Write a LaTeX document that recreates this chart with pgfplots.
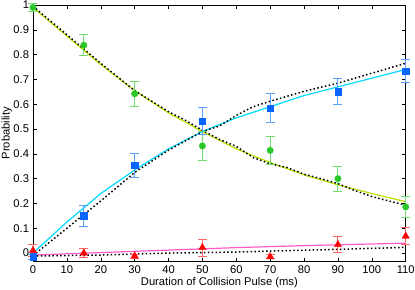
\documentclass[border=0pt]{standalone}
\usepackage{pgfplots}
\pgfplotsset{compat=1.18}
\usepackage{fontspec}
\setmainfont{Liberation Sans}
\definecolor{gmark}{RGB}{40,200,40}
\definecolor{gerr}{RGB}{110,220,110}
\definecolor{bmark}{RGB}{10,100,255}
\definecolor{berr}{RGB}{90,160,255}
\definecolor{rmark}{RGB}{255,0,0}
\definecolor{rerr}{RGB}{255,100,100}
\definecolor{gline}{RGB}{185,225,0}
\definecolor{cline}{RGB}{0,220,255}
\definecolor{pline}{RGB}{255,90,200}
\begin{document}
\fontsize{11.2bp}{13bp}\selectfont
\begin{tikzpicture}
\begin{axis}[
  scale only axis,
  width=372.7bp, height=256.5bp,
  xmin=0, xmax=110, ymin=-0.034, ymax=1,
  xtick={0,10,...,110},
  ytick={0,0.1,...,1.0},
  yticklabels={0,0.1,0.2,0.3,0.4,0.5,0.6,0.7,0.8,0.9,1},
  tick align=inside,
  major tick length=4bp,
  tick style={black, line width=0.5pt},
  axis line style={black, line width=0.6pt},
  every tick label/.append style={font=\fontsize{11.2bp}{13bp}\selectfont},
  /pgf/number format/assume math mode=true,
  xlabel={Duration of Collision Pulse (ms)},
  ylabel={Probability},
  label style={font=\fontsize{11.2bp}{13bp}\selectfont},
  xlabel style={yshift=4bp},
  ylabel style={at={(rel axis cs:-0.056,0.5)}, anchor=south, inner sep=0pt},
  clip=false,
]
\coordinate (ll) at (rel axis cs:0,0);
\coordinate (ur) at (rel axis cs:1,1);
% fitted lines
\addplot[gline, line width=1.2pt, mark=none] coordinates {
(0,0.99)(10,0.875)(20,0.76)(30,0.655)(40,0.565)(50,0.49)(60,0.42)(70,0.365)(80,0.315)(90,0.275)(100,0.24)(110,0.207)};
\addplot[cline, line width=1.2pt, mark=none] coordinates {
(0,0.0)(10,0.125)(20,0.24)(30,0.335)(40,0.42)(50,0.49)(60,0.545)(70,0.59)(80,0.635)(90,0.67)(100,0.705)(110,0.74)};
\addplot[pline, line width=1.2pt, mark=none] coordinates {
(0,-0.008)(20,0.002)(40,0.012)(60,0.022)(80,0.03)(110,0.04)};
% theory dotted
\addplot[black, line width=1.5pt, dash pattern=on 1.5pt off 2.4pt, mark=none] coordinates {
(0,0.995)(10,0.88)(20,0.765)(30,0.655)(40,0.57)(45,0.535)(50,0.495)(55,0.458)(60,0.43)(65,0.385)(70,0.36)(75,0.345)(80,0.318)(85,0.3)(90,0.28)(95,0.252)(100,0.228)(105,0.21)(110,0.193)};
\addplot[black, line width=1.5pt, dash pattern=on 1.5pt off 2.4pt, mark=none] coordinates {
(0,-0.01)(10,0.1)(20,0.21)(30,0.325)(40,0.415)(50,0.49)(55,0.512)(60,0.555)(65,0.59)(70,0.612)(80,0.652)(90,0.685)(100,0.725)(110,0.765)};
\addplot[black, line width=1.5pt, dash pattern=on 1.5pt off 2.4pt, mark=none] coordinates {
(0,-0.012)(20,-0.008)(40,0.0)(60,0.004)(70,0.008)(90,0.015)(110,0.023)};
% data with error bars
\addplot[only marks, mark=*, mark size=3.2bp, mark options={gmark, fill=gmark},
  error bars/.cd, y dir=both, y explicit,
  error bar style={gerr, line width=1pt},
  error mark options={gerr, line width=1pt, rotate=90, mark size=4.5bp}]
coordinates {
(0,0.99) +- (0,0.015)
(15,0.838) +- (0,0.042)
(30,0.642) +- (0,0.05)
(50,0.432) +- (0,0.058)
(70,0.414) +- (0,0.057)
(90,0.3) +- (0,0.05)
(110,0.186) +- (0,0.042)};
\addplot[only marks, mark=square*, mark size=3.2bp, mark options={bmark, fill=bmark},
  error bars/.cd, y dir=both, y explicit,
  error bar style={berr, line width=1pt},
  error mark options={berr, line width=1pt, rotate=90, mark size=4.5bp}]
coordinates {
(0,-0.014) +- (0,0.01)
(15,0.15) +- (0,0.043)
(30,0.353) +- (0,0.05)
(50,0.532) +- (0,0.056)
(70,0.585) +- (0,0.057)
(90,0.65) +- (0,0.053)
(110,0.734) +- (0,0.045)};
\addplot[only marks, mark=triangle*, mark size=4.2bp, mark options={rmark, fill=rmark},
  error bars/.cd, y dir=both, y explicit,
  error bar style={rerr, line width=1pt},
  error mark options={rerr, line width=1pt, rotate=90, mark size=4.5bp}]
coordinates {
(0,0.01) +- (0,0.024)
(15,0.0) +- (0,0.017)
(30,-0.012) +- (0,0.008)
(50,0.022) +- (0,0.034)
(70,-0.015) +- (0,0.008)
(90,0.034) +- (0,0.033)
(110,0.068) +- (0,0.035)};
\end{axis}
\pgfresetboundingbox
\path ([shift={(-33bp,-28.5bp)}]ll) rectangle ([shift={(9.3bp,5bp)}]ur);
\end{tikzpicture}
\end{document}
